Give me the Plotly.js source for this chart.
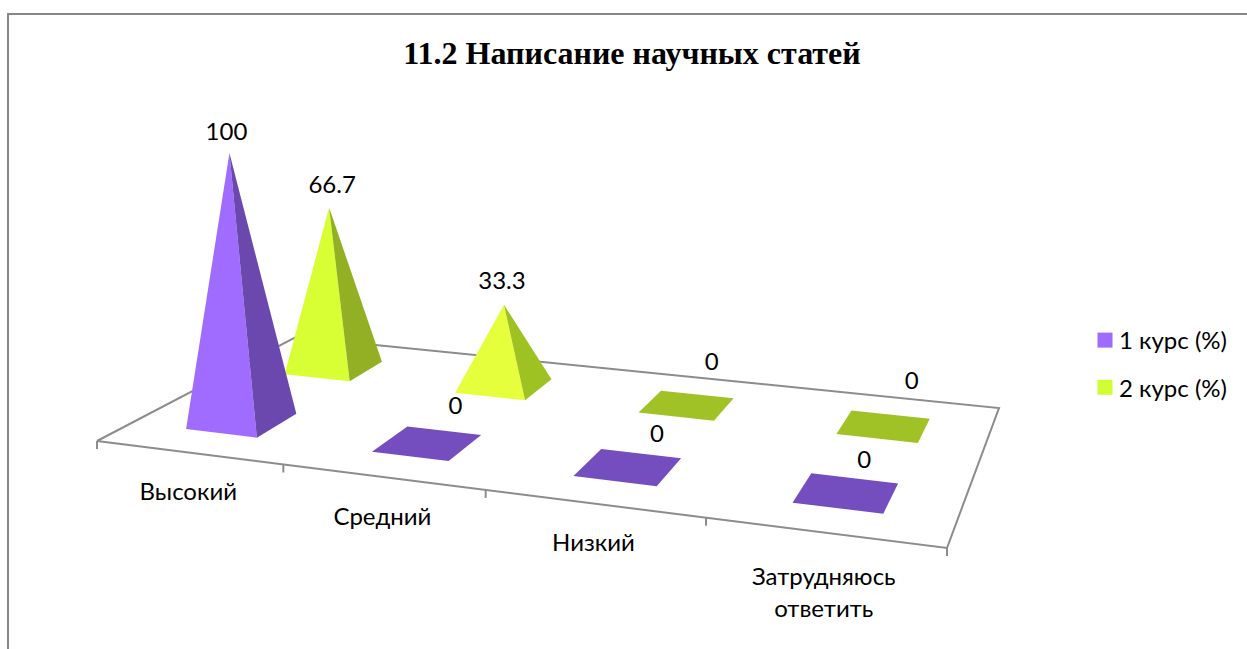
<!DOCTYPE html>
<html><head><meta charset="utf-8">
<script src="https://cdn.plot.ly/plotly-3.0.1.min.js"></script>
<style>html,body{margin:0;padding:0;background:#fff}#c{width:1247px;height:649px}</style>
</head><body><div id="c"></div>
<script>
const titleText = "11.2 Написание научных статей";
const categories = [["Высокий"],["Средний"],["Низкий"],["Затрудняюсь","ответить"]];
const seriesNames = ["1 курс (%)","2 курс (%)"];
const course1 = [100,0,0,0];
const course2 = [66.7,33.3,0,0];

// styling / camera
const FONT = "Lato, 'Open Sans', sans-serif";
const colors = [
 {legend:"#9F6BFF",front:["#A06CFF"],side:["#6A48AE"],flat:"#744DBF"},
 {legend:"#CFFF33",front:["#D8FF33","#E6FF3C"],side:["#93B024","#9FC223"],flat:"#A0C226"}
];
const GREY="#8C8C8C";
const corners=[[97,441],[947,548],[999,408],[296,337]]; // floor quad on the page
const nU=4,nV=2,HU=0.195,HV=0.2,WARP=0.014;
const VP=[503,6000],K=-0.000476;
const labelNudge=[
 [[-3,-19],[28,-35],[29,-31],[18,-31]],
 [[3,-21],[-2,-22],[25,-41],[28,-43]]
];

const [p0,p1,p2,p3]=corners;
const dx1=p1[0]-p2[0],dx2=p3[0]-p2[0],sx=p0[0]-p1[0]+p2[0]-p3[0];
const dy1=p1[1]-p2[1],dy2=p3[1]-p2[1],sy=p0[1]-p1[1]+p2[1]-p3[1];
const den=dx1*dy2-dx2*dy1;
const g=(sx*dy2-dx2*sy)/den,h=(dx1*sy-sx*dy1)/den;
const a=p1[0]-p0[0]+g*p1[0],b=p3[0]-p0[0]+h*p3[0];
const d=p1[1]-p0[1]+g*p1[1],e=p3[1]-p0[1]+h*p3[1];
function proj(u,v,z){
 const s0=u/nU,s=s0-WARP*s0*(1-s0),t=v/nV,w=g*s+h*t+1+K*z;
 return [(a*s+b*t+p0[0]+VP[0]*K*z)/w,(d*s+e*t+p0[1]+VP[1]*K*z)/w];
}
function poly(pts,color,extra){
 return Object.assign({type:"scatter",mode:"lines",x:pts.map(p=>p[0]),y:pts.map(p=>p[1]),
  line:{color:color,width:0},fill:"toself",fillcolor:color,showlegend:false,hoverinfo:"skip"},extra||{});
}
function line(pts){
 return {type:"scatter",mode:"lines",x:pts.map(p=>p[0]),y:pts.map(p=>p[1]),line:{color:GREY,width:2},showlegend:false,hoverinfo:"skip"};
}
const traces=[];
// floor
traces.push(line([proj(0,0,0),proj(nU,0,0),proj(nU,nV,0),proj(0,nV,0),proj(0,0,0)]));
for(let i=0;i<=nU;i++){const q=proj(i,0,0);traces.push(line([q,[q[0],q[1]+8]]));}
const allSeries=[course1,course2];
// back series first
for(const si of [1,0]){
 const vals=allSeries[si],c=colors[si],vc=si+0.5;
 vals.forEach((val,i)=>{
  const uc=i+0.5;
  const fl=proj(uc-HU,vc-HV,0),fr=proj(uc+HU,vc-HV,0),br=proj(uc+HU,vc+HV,0),bl=proj(uc-HU,vc+HV,0);
  if(val===0){traces.push(poly([fl,fr,br,bl,fl],c.flat));}
  else{
   const ap=proj(uc,vc,val);
   traces.push(poly([fl,fr,ap,fl],c.front[i]));
   traces.push(poly([fr,br,ap,fr],c.side[i]));
  }
 });
}
// value labels
allSeries.forEach((vals,si)=>{
 const xs=[],ys=[],ts=[];
 vals.forEach((val,i)=>{const q=proj(i+.5,si+.5,val),n=labelNudge[si][i];xs.push(q[0]+n[0]);ys.push(q[1]+n[1]);ts.push(String(val));});
 traces.push({type:"scatter",mode:"text",x:xs,y:ys,text:ts,textposition:"middle center",textfont:{family:FONT,size:24,color:"#000"},showlegend:false,hoverinfo:"skip"});
});
// category labels
{
 const xs=[],ys=[],ts=[];
 categories.forEach((lines,i)=>{const q=proj(i+.5,0,0);lines.forEach((t,j)=>{xs.push(q[0]);ys.push(q[1]+42+(lines.length-1)*5+j*32);ts.push(t);});});
 traces.push({type:"scatter",mode:"text",x:xs,y:ys,text:ts,textposition:"middle center",textfont:{family:FONT,size:24,color:"#000"},showlegend:false,hoverinfo:"skip"});
}
// legend entries
seriesNames.forEach((n,i)=>traces.push({type:"scatter",mode:"markers",x:[null],y:[null],name:n,legendgroup:"g"+i,
 marker:{symbol:"square",size:15,color:colors[i].legend},hoverinfo:"skip"}));

const layout={
 width:1247,height:649,margin:{l:0,r:0,t:0,b:0},paper_bgcolor:"#fff",plot_bgcolor:"#fff",
 title:{text:"<b>"+titleText+"</b>",font:{family:"'Liberation Serif',serif",size:32,color:"#000"},x:632/1247,xanchor:"center",y:1-53/649,yanchor:"middle"},
 xaxis:{range:[0,1247],visible:false,fixedrange:true},
 yaxis:{range:[649,0],visible:false,fixedrange:true},
 legend:{x:1085/1247,xanchor:"left",y:1-318/649,yanchor:"top",font:{family:FONT,size:24,color:"#000"},tracegroupgap:13,itemwidth:30,bgcolor:"rgba(0,0,0,0)"},
 shapes:[
  {type:"line",x0:8,x1:8,y0:14,y1:649,line:{color:"#868686",width:2}},
  {type:"line",x0:7,x1:1247,y0:14,y1:14,line:{color:"#868686",width:2}}
 ]
};
Plotly.newPlot("c",traces,layout,{displayModeBar:false,staticPlot:true}).then(gd=>{
 gd.querySelectorAll(".legendtext").forEach(t=>t.setAttribute("x",parseFloat(t.getAttribute("x"))-6));
});
</script></body></html>
